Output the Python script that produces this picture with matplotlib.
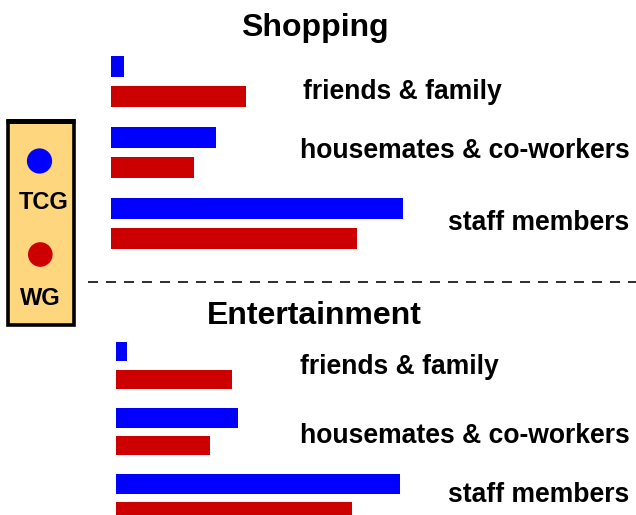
import matplotlib
matplotlib.use("Agg")
import matplotlib.pyplot as plt
from matplotlib.patches import Rectangle, Circle
import numpy as np

categories = ["friends & family", "housemates & co-workers", "staff members"]
series = ["TCG", "WG"]
shopping_tcg = [4.2, 34.9, 97.2]
shopping_wg = [45.1, 27.8, 81.9]
entertainment_tcg = [3.9, 40.9, 94.8]
entertainment_wg = [38.9, 31.3, 78.7]
panel_titles = ["Shopping", "Entertainment"]

BLUE = "#0000FF"
RED = "#CC0000"
FONT = "Liberation Sans"

W, H = 636, 515
fig = plt.figure(figsize=(W / 100, H / 100), dpi=100)

def fx(px):
    return px / W

def fy(py):
    return 1 - py / H

def make_axes(left_px, right_px, top_px, bottom_px):
    ax = fig.add_axes([fx(left_px), fy(bottom_px), (right_px - left_px) / W, (bottom_px - top_px) / H])
    ax.set_axis_off()
    return ax

# Shopping panel
ax1 = make_axes(111, 636, 45.45, 259.35)
ax1.set_xlim(0, 175)
ax1.set_ylim(2.5, -0.5)
# Entertainment panel
ax2 = make_axes(115.7, 636, 332.55, 530.85)
ax2.set_xlim(0, 173.4)
ax2.set_ylim(2.5, -0.5)

y = np.arange(len(categories))
off, hgt = 0.21, 0.295
for ax, tcg, wg in [(ax1, shopping_tcg, shopping_wg), (ax2, entertainment_tcg, entertainment_wg)]:
    ax.barh(y - off, tcg, height=hgt, color=BLUE, linewidth=0)
    ax.barh(y + off, wg, height=hgt, color=RED, linewidth=0)

# overlay axes in pixel coordinates for decorations
ov = fig.add_axes([0, 0, 1, 1], zorder=5)
ov.set_xlim(0, W)
ov.set_ylim(H, 0)
ov.set_axis_off()
ov.patch.set_alpha(0)

# titles
fig.text(fx(314.5), fy(36), panel_titles[0], ha="center", va="baseline",
         fontsize=23, fontweight="bold", family=FONT)
fig.text(fx(314.5), fy(324.3), panel_titles[1], ha="center", va="baseline",
         fontsize=23, fontweight="bold", family=FONT)

# category labels
lab_pos_shop = [(302.7, 99.3), (300, 157.7), (448.3, 230)]
lab_pos_ent = [(300, 374.3), (300, 443.3), (448.3, 501.7)]
for cat, (lx, ly) in zip(categories, lab_pos_shop):
    fig.text(fx(lx), fy(ly), cat, ha="left", va="baseline", fontsize=19.1,
             fontweight="bold", family=FONT)
for cat, (lx, ly) in zip(categories, lab_pos_ent):
    fig.text(fx(lx), fy(ly), cat, ha="left", va="baseline", fontsize=19.1,
             fontweight="bold", family=FONT)

# dashed separator
ov.plot([88, 636], [282, 282], color="#333333", linewidth=1.44, dashes=(5, 4))

# legend box
ov.add_patch(Rectangle((7.5, 121), 66, 204, facecolor="#FED67E", edgecolor="black", linewidth=2.6))
ov.plot([6, 75], [121, 121], color="black", linewidth=3.6, solid_capstyle="butt")
ov.add_patch(Circle((39.5, 161), 12.6, facecolor=BLUE, edgecolor="none"))
ov.add_patch(Circle((40.3, 254.5), 12.3, facecolor=RED, edgecolor="none"))
ov.text(43.5, 209, series[0], ha="center", va="baseline", fontsize=17,
        fontweight="bold", family=FONT)
ov.text(40.7, 305, series[1], ha="center", va="baseline", fontsize=17,
        fontweight="bold", family=FONT)

fig.savefig("out.png", dpi=100)
